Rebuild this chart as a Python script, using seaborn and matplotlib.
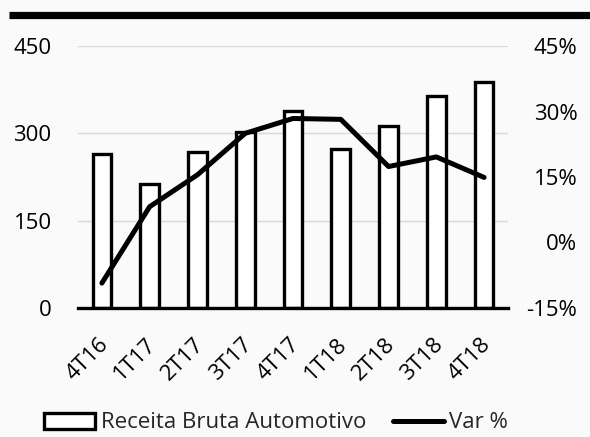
import numpy as np
import pandas as pd
import matplotlib
matplotlib.use("Agg")
import matplotlib.pyplot as plt
import matplotlib.transforms as mtrans
import seaborn as sns
from matplotlib.patches import Patch
from matplotlib.lines import Line2D

# dados
trimestres = ["4T16", "1T17", "2T17", "3T17", "4T17", "1T18", "2T18", "3T18", "4T18"]
receita = [264, 213, 268, 303, 338, 273, 313, 364, 389]
var_pct = [-9.3, 8.2, 15.5, 25.0, 28.4, 28.2, 17.4, 19.6, 14.9]

left_ticks = [0, 150, 300, 450]
right_ticks = [-15, 0, 15, 30, 45]

sns.set_theme(style="white")
plt.rcParams["font.family"] = ["Open Sans", "DejaVu Sans"]
bg = "#fafafa"

df = pd.DataFrame({"tri": trimestres, "receita": receita,
                   "var": var_pct, "pos": np.arange(len(trimestres))})

fig = plt.figure(figsize=(5.9, 4.37), dpi=100, facecolor=bg)
ax = fig.add_axes([78 / 590, 1 - 308 / 437, 430 / 590, 262 / 437])
ax.set_facecolor(bg)

sns.barplot(data=df, x="tri", y="receita", color="white", edgecolor="black",
            linewidth=2.4, width=0.39, ax=ax, saturation=1, zorder=2)
ax.set_xlim(-0.5, len(trimestres) - 0.5)
ax.set_ylim(0, 450)
ax.set_yticks(left_ticks)
ax.yaxis.grid(True, color="#d9d9d9", linewidth=1.0, zorder=0)
ax.set_axisbelow(True)
for s in ["top", "right", "left"]:
    ax.spines[s].set_visible(False)
ax.spines["bottom"].set_color("black")
ax.spines["bottom"].set_linewidth(2.4)
ax.spines["bottom"].set_zorder(5)
ax.set_xlabel("")
ax.set_ylabel("")
ax.tick_params(axis="y", length=0, pad=19, labelsize=16, colors="black")
ax.tick_params(axis="x", length=0, pad=19, labelsize=16, colors="black")
shift = mtrans.ScaledTranslation(-4 / 100, 0, fig.dpi_scale_trans)
for lab in ax.get_xticklabels():
    lab.set_rotation(45)
    lab.set_ha("right")
    lab.set_rotation_mode("anchor")
    lab.set_transform(lab.get_transform() + shift)

ax2 = ax.twinx()
sns.lineplot(data=df, x="pos", y="var", color="black", linewidth=3.6,
             ax=ax2, zorder=4, solid_capstyle="round")
ax2.set_ylim(-15, 45)
ax2.set_yticks(right_ticks)
ax2.set_yticklabels([f"{v}%" for v in right_ticks])
for lab in ax2.get_yticklabels():
    lab.set_ha("right")
ax2.tick_params(axis="y", length=0, pad=50, labelsize=16, colors="black")
for s in ["top", "right", "left", "bottom"]:
    ax2.spines[s].set_visible(False)
ax2.set_xlabel("")
ax2.set_ylabel("")
ax2.grid(False)

# barra preta no topo
fig.add_artist(Line2D([9 / 590, 1], [1 - 14.5 / 437, 1 - 14.5 / 437],
                      color="black", linewidth=5.2, solid_capstyle="butt",
                      transform=fig.transFigure))

handles = [Patch(facecolor="white", edgecolor="black", linewidth=2.4,
                 label="Receita Bruta Automotivo"),
           Line2D([], [], color="black", linewidth=3.6, label="Var %")]
fig.legend(handles=handles, loc="center", bbox_to_anchor=(0.468, 1 - 423 / 437),
           ncol=2, frameon=False, fontsize=16, handlelength=2.3,
           handleheight=0.7, handletextpad=0.25, columnspacing=1.2)

fig.savefig("out.png", dpi=100, facecolor=bg)
